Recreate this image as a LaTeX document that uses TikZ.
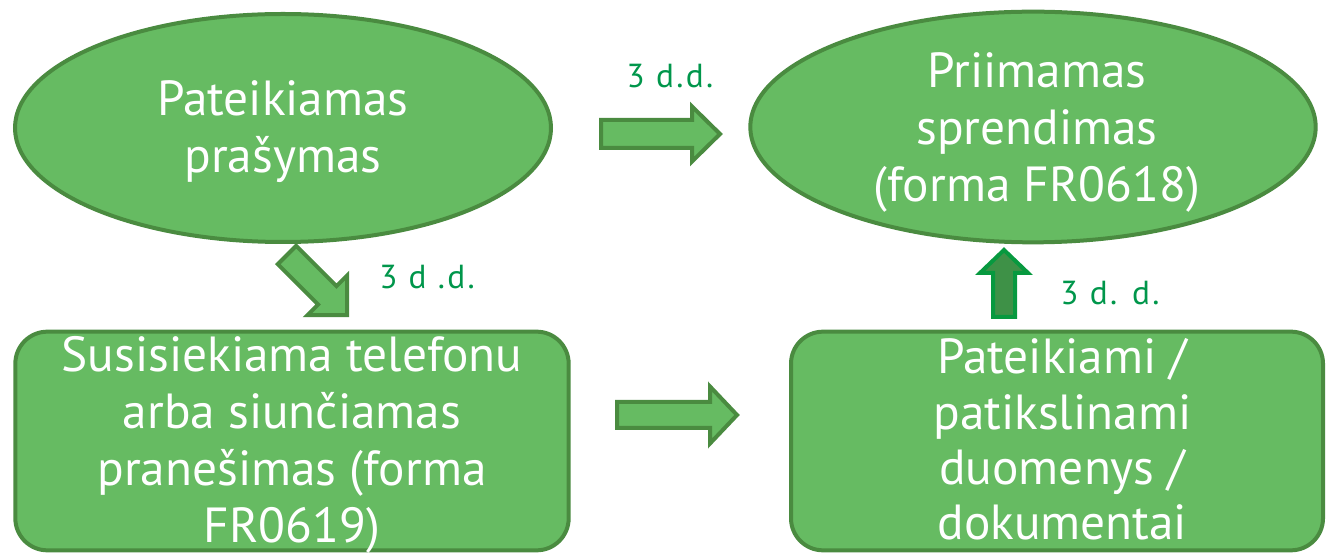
\documentclass[tikz,border=0pt]{standalone}
\usepackage{fontspec}
\setmainfont{PT Sans}
\newfontfamily\labelfont[LetterSpace=7]{PT Sans}
\usetikzlibrary{shapes.geometric,shadows}
\definecolor{boxfill}{HTML}{66BB62}
\definecolor{boxline}{HTML}{4A8B40}
\definecolor{lbl}{HTML}{00964B}
\definecolor{upfill}{HTML}{3E9147}
\definecolor{upline}{HTML}{07993F}
\tikzset{
  pics/blockarrow/.style n args={4}{code={
    \path[pic actions] (0,-#2) -- ({#1-#4},-#2) -- ({#1-#4},-#3) -- (#1,0)
      -- ({#1-#4},#3) -- ({#1-#4},#2) -- (0,#2) -- cycle;
  }}
}
\begin{document}
\begin{tikzpicture}[x=0.75pt,y=-0.75pt,
  shapebox/.style={draw=boxline, line width=3pt, fill=boxfill, inner sep=0pt},
  oval/.style={shapebox, ellipse},
  roundbox/.style={shapebox, rectangle, rounded corners=24pt},
  bodytext/.style={text=white, font=\fontsize{37}{42.75}\selectfont, align=center, inner sep=0pt},
  daylabel/.style={text=lbl, font=\labelfont\fontsize{25}{28}\selectfont, inner sep=0pt},
  greenarrow/.style={draw=boxline, fill=boxfill, line width=3pt, line join=miter},
  uparrow/.style={draw=upline, fill=upfill, line width=3pt, line join=miter,
    drop shadow={opacity=0.35, shadow xshift=1.5pt, shadow yshift=-2pt}}
]
\useasboundingbox (0,0) rectangle (1327,555);

% shapes
\node[oval, minimum width=402pt, minimum height=171pt] (e1) at (283,128) {};
\node[oval, minimum width=424pt, minimum height=173pt] (e2) at (1033,127) {};
\node[roundbox, minimum width=415pt, minimum height=164pt] (r1) at (292,441) {};
\node[roundbox, minimum width=399pt, minimum height=164pt] (r2) at (1057,441) {};

% texts
\node[bodytext] (t1) at ([yshift=-3pt]e1.center) {Pateikiamas\\prašymas};
\node[bodytext] (t2) at ([xshift=3pt,yshift=-4pt]e2.center) {Priimamas\\sprendimas\\(forma FR0618)};
\node[bodytext] (t3) at ([yshift=-3pt]r1.center) {Susisiekiama telefonu\\arba siunčiamas\\pranešimas (forma\\FR0619)};
\node[bodytext, font=\fontsize{37}{41.5}\selectfont] (t4) at ([xshift=4pt,yshift=1pt]r2.center) {Pateikiami /\\patikslinami\\duomenys /\\dokumentai};

% block arrows
\pic[greenarrow] (a1) at (601,134) {blockarrow={119}{14}{27.5}{28}};
\pic[greenarrow, rotate=-45] (a2) at (287,255) {blockarrow={85}{13}{28}{28}};
\pic[greenarrow] (a3) at (617,415) {blockarrow={120}{13}{28.5}{27}};
\pic[uparrow, rotate=90] (a4) at (1004,317) {blockarrow={67}{11}{24}{23}};

% labels
\node[daylabel] (l1) at (670,76) {3 d.d.};
\node[daylabel] (l2) at (427,277) {3 d .d.};
\node[daylabel] (l3) at (1110,293) {3 d. d.};
\end{tikzpicture}
\end{document}
